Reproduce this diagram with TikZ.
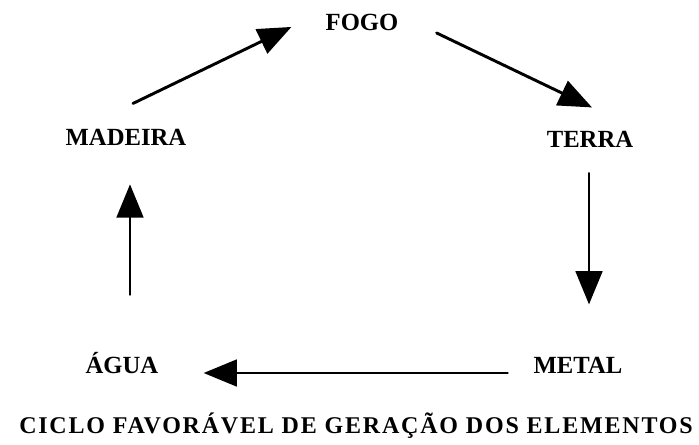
\documentclass[tikz,border=0pt]{standalone}
\usepackage{fontspec}
\setmainfont{Liberation Serif}
\usepackage{tikz}
\usetikzlibrary{calc,arrows.meta}

\begin{document}
\begin{tikzpicture}[x=0.75pt, y=-0.75pt, every node/.style={inner sep=0pt, anchor=base, font=\fontsize{18.5}{22}\selectfont\bfseries}, seta/.style={line width=2.2pt, line cap=round, -{Triangle[length=25pt, width=20pt]}}]
            \useasboundingbox (0,0) rectangle (699,445);
            \foreach \nome/\txt/\x/\y in {fogo/FOGO/362/31, madeira/MADEIRA/126/146, terra/TERRA/590/148, agua/ÁGUA/122/373, metal/METAL/578/373} {
                \node (\nome) at (\x, \y) {\txt};
            }
            \node[font=\fontsize{18}{20}\selectfont\bfseries\addfontfeature{LetterSpace=7.5}] (titulo) at (356, 433) {CICLO FAVORÁVEL DE GERAÇÃO DOS ELEMENTOS};

            \draw [seta] ($(madeira.north)+(7,-26)$) -- ($(fogo.west)+(-34,4)$);
            \draw [seta] ($(fogo.east)+(38,10)$) -- ($(terra.north)+(2,-24)$);
            \draw [seta] ($(terra.south)+(-1,25)$) -- ($(metal.north)+(11,-52)$);
            \draw [seta] ($(metal.base west)+(-26,0)$) -- ($(agua.base east)+(45,0)$);
            \draw [seta] ($(agua.north)+(8,-57)$) -- ($(madeira.south)+(4,38)$);

        \end{tikzpicture}
\end{document}
